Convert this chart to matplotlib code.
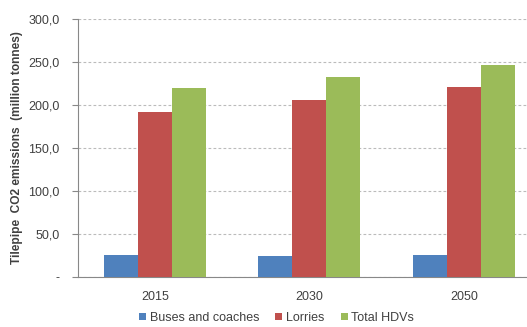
import numpy as np
import matplotlib.pyplot as plt

years = ['2015', '2030', '2050']
series = ['Buses and coaches', 'Lorries', 'Total HDVs']
buses = [25.5, 24.7, 25.9]
lorries = [191.8, 206.0, 220.4]
total_hdvs = [218.9, 232.4, 246.7]
colors = ['#4F81BD', '#C0504D', '#9BBB59']
yticks = [0, 50, 100, 150, 200, 250, 300]
ytick_labels = ['-', '50,0', '100,0', '150,0', '200,0', '250,0', '300,0']

plt.rcParams['font.family'] = ['Liberation Sans', 'DejaVu Sans']
txt = '#404040'

fig = plt.figure(figsize=(5.27, 3.27), dpi=100)
ax = fig.add_axes([0.1475, 0.153, 0.879, 0.79])

x = np.arange(len(years))
w = 0.22
for i, (vals, name) in enumerate(zip([buses, lorries, total_hdvs], series)):
    ax.bar(x + (i - 1) * w, vals, width=w, color=colors[i], label=name, zorder=3)

ax.set_xlim(-0.5, 2.5)
ax.set_ylim(0, 300)
ax.set_yticks(yticks)
ax.set_yticklabels(ytick_labels)
ax.set_xticks(x)
ax.set_xticklabels(years)
ax.tick_params(axis='y', length=4, color='#888888', labelsize=9, labelcolor=txt, pad=9)
ax.tick_params(axis='x', length=0, labelsize=9, labelcolor=txt, pad=10)
ax.yaxis.grid(True, linestyle=(0, (2.5, 2)), color='#BBBBBB', linewidth=0.8, zorder=0)

for s in ['top', 'right']:
    ax.spines[s].set_visible(False)
ax.spines['left'].set_color('#888888')
ax.spines['bottom'].set_color('#888888')

ax.set_ylabel('Tilepipe  CO2 emissions  (million tonnes)', fontsize=8.6,
              fontweight='bold', color=txt, labelpad=3.5)

fig.legend(loc='lower center', bbox_to_anchor=(0.525, -0.025), ncol=3, frameon=False,
           fontsize=9, handlelength=0.55, handleheight=0.55, handletextpad=0.3,
           columnspacing=1.3, labelcolor=txt)

fig.savefig('out.png', dpi=100)
